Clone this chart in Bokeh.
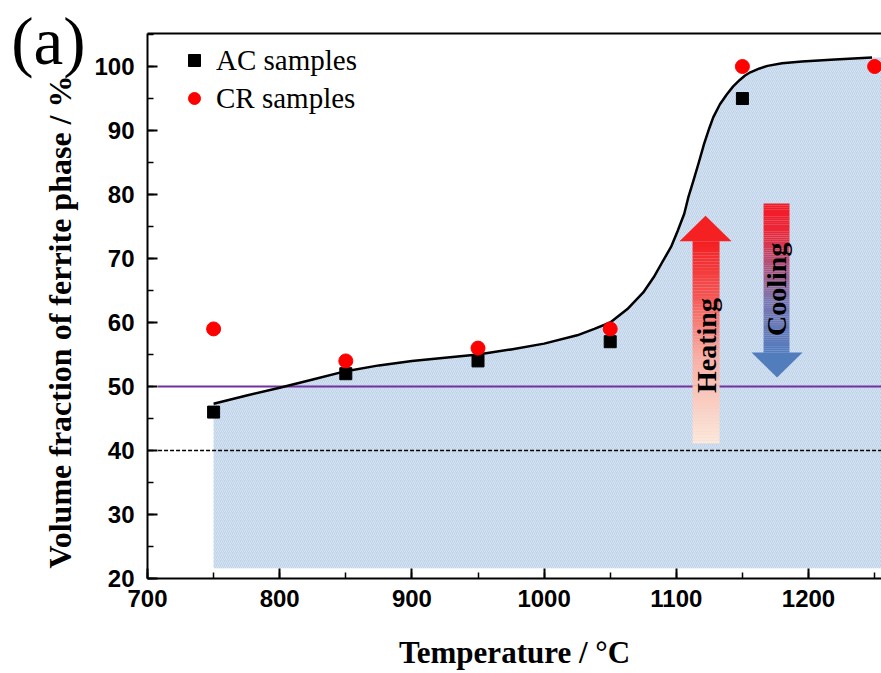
import math
from bokeh.plotting import figure
from bokeh.models import (Range1d, LinearAxis, FixedTicker, SingleIntervalTicker,
                          Legend, LegendItem)
from bokeh.core.properties import value
from bokeh.embed import file_html
from bokeh.resources import INLINE

# ---------------- data ----------------
ac_temps = [750, 850, 950, 1050, 1150]
ac_values = [46, 52, 54, 57, 95]
cr_temps = [750, 850, 950, 1050, 1150, 1250]
cr_values = [59, 54, 56, 59, 100, 100]

curve_x = [750, 775, 800, 825, 850, 875, 900, 925, 950, 975, 1000, 1025, 1038, 1050,
           1063, 1075, 1083, 1089, 1096, 1101, 1106, 1109, 1113, 1117, 1121, 1125, 1128,
           1133, 1138, 1143, 1148, 1152, 1156, 1163, 1169, 1180, 1195, 1220, 1248]
curve_y = [47.3, 48.6, 49.8, 51.1, 52.4, 53.3, 54.0, 54.5, 55.0, 55.8, 56.7, 58.0, 59.0, 60.0,
           62.1, 64.7, 67.1, 69.3, 71.8, 74.3, 77.0, 79.5, 82.2, 85.0, 87.9, 90.4, 92.1,
           94.1, 95.6, 96.9, 97.9, 98.6, 99.1, 99.7, 100.1, 100.5, 100.8, 101.1, 101.4]
fill_x_end = 1258
fill_base = 21.6

ref_levels = [50, 40]
ref_colors = ["#7030A0", "black"]
ref_dashes = ["solid", "4 2"]
ref_x_start = 708
ref_x_end = 1258

x_ticks_interval = 100
y_ticks_interval = 10

x_title = "Temperature / °C"
y_title = "Volume fraction of ferrite phase / %"
panel_tag = "(a)"
panel_tag_level = 104.0

# arrows: shaft left/right/bottom/top, head left/right/base, tip
heat_arrow = dict(sl=1112.3, sr=1132.7, sb=41.1, st=72.7, hl=1102.4, hr=1141.8, hb=72.7, tip=76.7)
cool_arrow = dict(sl=1166.0, sr=1185.6, sb=55.3, st=78.6, hl=1156.9, hr=1195.5, hb=55.3, tip=51.4)
heat_stops = [(0.0, (253, 233, 218)), (0.45, (249, 170, 160)), (0.75, (246, 80, 78)), (1.0, (244, 30, 32))]
cool_stops = [(0.0, (84, 124, 190)), (0.35, (122, 118, 176)), (0.6, (180, 80, 120)), (0.8, (236, 40, 56)), (1.0, (245, 24, 36))]
heat_head_color = "#f42022"
cool_head_color = "#527dbd"
heat_text = ("Heating", 1123.0, 56.4)
cool_text = ("Cooling", 1176.0, 65.2)


def interp_color(stops, t):
    for (t0, c0), (t1, c1) in zip(stops[:-1], stops[1:]):
        if t0 <= t <= t1:
            f = (t - t0) / (t1 - t0) if t1 > t0 else 0
            c = [round(a + (b - a) * f) for a, b in zip(c0, c1)]
            return "#%02x%02x%02x" % tuple(c)
    return "#%02x%02x%02x" % stops[-1][1]


# ---------------- figure ----------------
p = figure(width=881, height=673, x_range=Range1d(700, 1255.2), y_range=Range1d(20, 105.16),
           output_backend="svg", toolbar_location=None,
           min_border_left=147, min_border_right=0, min_border_top=33, min_border_bottom=95)
p.xgrid.visible = False
p.ygrid.visible = False
p.outline_line_color = None
p.background_fill_color = "white"

# filled region under curve
p.varea(x=curve_x + [fill_x_end], y1=[fill_base] * (len(curve_x) + 1), y2=curve_y + [curve_y[-1]],
        fill_color="#bed2ea", hatch_pattern="/", hatch_color="white", hatch_alpha=0.4,
        hatch_scale=4, hatch_weight=1)

# reference lines
for lvl, col, dash in zip(ref_levels, ref_colors, ref_dashes):
    p.line(x=[ref_x_start, ref_x_end], y=[lvl, lvl], line_color=col,
           line_width=2 if dash == "solid" else 1.5, line_dash=dash)

# curve
p.line(x=curve_x, y=curve_y, line_color="black", line_width=2.5, line_join="round")


# gradient arrows
def draw_arrow(a, stops, head_color):
    n = 70
    h = (a["st"] - a["sb"]) / n
    lefts, rights, bottoms, tops, cols = [], [], [], [], []
    for i in range(n):
        b = a["sb"] + i * h
        t = (i + 0.5) / n
        lefts.append(a["sl"]); rights.append(a["sr"])
        bottoms.append(b); tops.append(b + h * 1.02)
        cols.append(interp_color(stops, t))
    p.quad(left=lefts, right=rights, bottom=bottoms, top=tops, fill_color=cols, line_color=None)
    cx = (a["hl"] + a["hr"]) / 2
    p.patch(x=[a["hl"], a["hr"], cx], y=[a["hb"], a["hb"], a["tip"]], fill_color=head_color, line_color=None)


draw_arrow(heat_arrow, heat_stops, heat_head_color)
draw_arrow(cool_arrow, cool_stops, cool_head_color)

for txt, tx, ty in [heat_text, cool_text]:
    p.text(x=[tx], y=[ty], text=[txt], angle=math.pi / 2, text_font=value("Liberation Serif"),
           text_font_style="bold", text_font_size="28px", text_align="center",
           text_baseline="middle", text_color="black")

# markers
sq = p.scatter(x=ac_temps, y=ac_values, marker="square", size=12, fill_color="black", line_color="black")
ci = p.scatter(x=cr_temps, y=cr_values, marker="circle", size=14, fill_color="#ff0000", line_color="#ff0000")

legend = Legend(items=[LegendItem(label="AC samples", renderers=[sq]),
                       LegendItem(label="CR samples", renderers=[ci])],
                location=(32, 463), glyph_width=30, glyph_height=34, label_height=34,
                label_standoff=7, spacing=4, padding=10, margin=0,
                label_text_font="Liberation Serif", label_text_font_size="29px",
                label_text_color="black",
                background_fill_alpha=0, border_line_color=None)
p.add_layout(legend)

# axes
p.xaxis.ticker = SingleIntervalTicker(interval=x_ticks_interval, num_minor_ticks=2)
p.yaxis.ticker = SingleIntervalTicker(interval=y_ticks_interval, num_minor_ticks=2)
p.xaxis.axis_label = x_title
# trailing no-break spaces nudge the centred vertical title slightly downwards, as in the original
p.yaxis.axis_label = y_title + "\u00a0" * 4
for ax in [p.xaxis[0], p.yaxis[0]]:
    ax.axis_line_width = 2
    ax.axis_line_color = "black"
    ax.major_tick_in = 10
    ax.major_tick_out = 0
    ax.minor_tick_in = 6
    ax.minor_tick_out = 0
    ax.major_tick_line_width = 2
    ax.minor_tick_line_width = 1.5
    ax.major_tick_line_color = "black"
    ax.minor_tick_line_color = "black"
    ax.major_label_text_font = "Liberation Sans"
    ax.major_label_text_font_style = "bold"
    ax.major_label_text_font_size = "24px"
    ax.major_label_text_color = "black"
    ax.axis_label_text_font = "Liberation Serif"
    ax.axis_label_text_font_style = "bold"
    ax.axis_label_text_color = "black"
p.xaxis.axis_label_text_font_size = "31px"
p.yaxis.axis_label_text_font_size = "32px"
p.xaxis.major_label_standoff = 11
p.yaxis.major_label_standoff = 13
p.xaxis.axis_label_standoff = 25
p.yaxis.axis_label_standoff = 13

top_axis = LinearAxis(ticker=FixedTicker(ticks=[]), major_label_text_font_size="0px",
                      major_tick_line_color=None, minor_tick_line_color=None,
                      axis_line_width=2, axis_line_color="black")
p.add_layout(top_axis, "above")

# panel tag "(a)" as a tick label of an outer, line-less left axis
tag_axis = LinearAxis(ticker=FixedTicker(ticks=[panel_tag_level]),
                      major_label_overrides={panel_tag_level: panel_tag},
                      axis_line_color=None, major_tick_line_color=None, minor_tick_line_color=None,
                      major_label_text_font="Liberation Serif", major_label_text_font_size="67px",
                      major_label_text_color="black", major_label_standoff=-52)
p.add_layout(tag_axis, "left")

open("out.html", "w").write(file_html(p, INLINE))
